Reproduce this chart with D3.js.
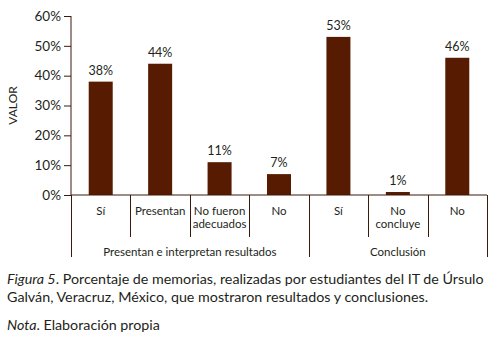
<!DOCTYPE html>
<html>
<head>
<meta charset="utf-8">
<script src="https://cdn.jsdelivr.net/npm/d3@7/dist/d3.min.js"></script>
<style>
  body { margin: 0; background: #fff; }
  svg { font-family: Lato, "Open Sans", sans-serif; }
</style>
</head>
<body>
<svg id="chart" width="490" height="340"></svg>
<script>
// data
var categories = ['Sí', 'Presentan', 'No fueron\nadecuados', 'No', 'Sí2', 'No\nconcluye', 'No2'];
var catLabels = ['Sí', 'Presentan', 'No fueron\nadecuados', 'No', 'Sí', 'No\nconcluye', 'No'];
var values = [0.38, 0.44, 0.11, 0.07, 0.53, 0.01, 0.46];
var groups = ['Presentan e interpretan resultados', 'Conclusión'];
var groupSizes = [4, 3];
var yTicks = [0, 0.1, 0.2, 0.3, 0.4, 0.5, 0.6];

var svg = d3.select('#chart');
var barColor = '#561b00',
    axisColor = '#3b1a0c',
    textColor = '#231f20';

var x = d3.scaleBand()
  .domain(categories)
  .range([71, 487]);

var y = d3.scaleLinear()
  .domain([0, 0.6])
  .range([195, 16]);

// y axis
var yAxis = d3.axisLeft(y)
  .tickValues(yTicks)
  .tickFormat(d3.format('.0%'))
  .tickSize(7)
  .tickPadding(3);

var gy = svg.append('g')
  .attr('transform', 'translate(71,0)')
  .call(yAxis);
gy.select('.domain').attr('stroke', axisColor).attr('d', 'M0,' + y(0.6) + 'V' + y(0));
gy.selectAll('.tick line').attr('stroke', axisColor);
gy.selectAll('.tick text')
  .attr('fill', textColor)
  .style('font-size', '13.5px')
  .style('font-family', 'Lato, sans-serif');

svg.append('text')
  .attr('transform', 'translate(17,' + y(0.3) + ') rotate(-90)')
  .attr('text-anchor', 'middle')
  .attr('fill', textColor)
  .style('font-size', '12px')
  .text('VALOR');

// bars
var bw = 24;
svg.append('g')
  .selectAll('rect')
  .data(values)
  .enter()
  .append('rect')
  .attr('x', (d, i) => x(categories[i]) + x.bandwidth() / 2 - bw / 2)
  .attr('y', d => y(d))
  .attr('width', bw)
  .attr('height', d => y(0) - y(d))
  .attr('fill', barColor);

svg.append('g')
  .selectAll('text')
  .data(values)
  .enter()
  .append('text')
  .attr('x', (d, i) => x(categories[i]) + x.bandwidth() / 2)
  .attr('y', d => y(d) - 7)
  .attr('text-anchor', 'middle')
  .attr('fill', textColor)
  .style('font-size', '12.5px')
  .text(d => Math.round(d * 100) + '%');

// baseline
svg.append('line')
  .attr('x1', x.range()[0]).attr('x2', x.range()[1])
  .attr('y1', y(0)).attr('y2', y(0))
  .attr('stroke', axisColor);

// category separators
var bounds = categories.map(c => x(c)).concat([x.range()[1]]);
var groupBounds = [0];
groupSizes.forEach((n, i) => groupBounds.push(groupBounds[i] + n));

svg.append('g')
  .selectAll('line')
  .data(bounds)
  .enter()
  .append('line')
  .attr('x1', d => Math.round(d) + 0.5)
  .attr('x2', d => Math.round(d) + 0.5)
  .attr('y1', y(0))
  .attr('y2', (d, i) => groupBounds.indexOf(i) >= 0 ? 257 : 237)
  .attr('stroke', axisColor);

// category labels
var cl = svg.append('g')
  .selectAll('text')
  .data(catLabels)
  .enter()
  .append('text')
  .attr('x', (d, i) => x(categories[i]) + x.bandwidth() / 2)
  .attr('y', 215)
  .attr('text-anchor', 'middle')
  .attr('fill', textColor)
  .style('font-size', '11.5px');
cl.each(function (d) {
  var t = d3.select(this);
  d.split('\n').forEach((line, j) => {
    t.append('tspan')
      .attr('x', t.attr('x'))
      .attr('dy', j === 0 ? 0 : 12.5)
      .text(line);
  });
});

// group labels
svg.append('g')
  .selectAll('text')
  .data(groups)
  .enter()
  .append('text')
  .attr('x', (d, i) => (bounds[groupBounds[i]] + bounds[groupBounds[i + 1]]) / 2)
  .attr('y', 256)
  .attr('text-anchor', 'middle')
  .attr('fill', textColor)
  .style('font-size', '11.5px')
  .text(d => d);

// caption
var cap = svg.append('g').attr('fill', textColor).style('font-size', '13.5px');
var l1 = cap.append('text').attr('x', 7).attr('y', 284);
l1.append('tspan').style('font-style', 'italic').text('Figura 5');
l1.append('tspan').text('. Porcentaje de memorias, realizadas por estudiantes del IT de Úrsulo');
cap.append('text').attr('x', 7).attr('y', 302)
  .text('Galván, Veracruz, México, que mostraron resultados y conclusiones.');
var l3 = cap.append('text').attr('x', 7).attr('y', 330);
l3.append('tspan').style('font-style', 'italic').text('Nota');
l3.append('tspan').text('. Elaboración propia');

// squeeze the caption to the width of the original
var w = l1.node().getComputedTextLength();
var fs = 13.5 * 477 / w;
cap.style('font-size', fs + 'px');
</script>
</body>
</html>
